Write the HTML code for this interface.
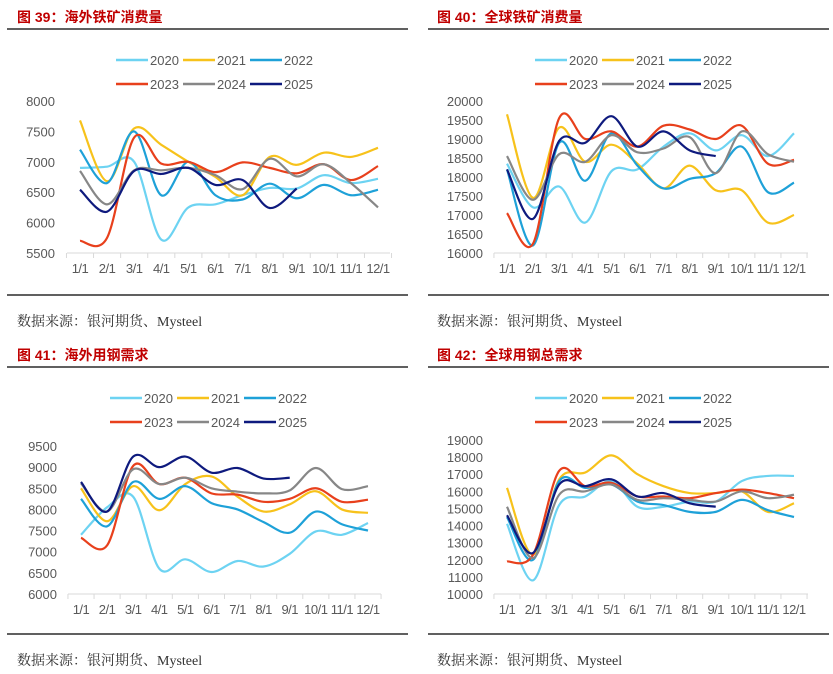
<!DOCTYPE html>
<html><head><meta charset="utf-8"><style>
body{margin:0;background:#fff;width:833px;height:674px;overflow:hidden;font-family:"Liberation Sans","Noto Sans CJK SC",sans-serif}
svg{position:absolute;left:0;top:0}
</style></head><body>
<svg id="s" width="833" height="674" xmlns="http://www.w3.org/2000/svg" font-family="Liberation Sans, Noto Sans CJK SC, sans-serif"></svg>
<script>
const C=['#6dd3f2','#f7c21b','#1ea1d8','#e8401c','#878787','#0e1a7e'];
const charts=[
{t:'图 39：海外铁矿消费量',tx:17,ty:22,ly:29,l0:7,l1:408,lg:116,ax0:67,ax1:390,x1:80,x12:378,yt:101,yb:253,v0:5500,v1:8000,st:500,ylx:55,bl:295,src:17,sy:326,
d:[[6900,6920,7000,5720,6250,6300,6450,6570,6560,6780,6650,6720],[7680,6680,7550,7280,7000,6750,6450,7080,6950,7150,7080,7230],[7200,6650,7500,6450,7000,6450,6380,6640,6400,6620,6450,6540],[5700,5750,7400,6970,7000,6830,6990,6900,6810,6960,6700,6930],[6850,6300,6860,6860,6900,6780,6550,7050,6760,6960,6650,6250],[6540,6180,6850,6800,6900,6620,6700,6240,6560]]},
{t:'图 40：全球铁矿消费量',tx:437,ty:22,ly:29,l0:428,l1:829,lg:535,ax0:494,ax1:808,x1:507,x12:794,yt:101,yb:253,v0:16000,v1:20000,st:500,ylx:483,bl:295,src:437,sy:326,
d:[[18350,17200,17750,16800,18150,18200,18800,19150,18700,19100,18550,19150],[19650,17450,19300,18400,18850,18350,17700,18300,17650,17650,16800,17000],[18200,16200,18900,17900,19150,18300,17700,17950,18100,18800,17600,17850],[17050,16250,19550,19000,19200,18800,19350,19250,19000,19350,18350,18450],[18550,17400,18600,18400,19100,18650,18750,19050,18100,19200,18600,18400],[18200,16900,18950,18900,19600,18800,19200,18700,18550]]},
{t:'图 41：海外用钢需求',tx:17,ty:360,ly:367,l0:7,l1:408,lg:110,ax0:68,ax1:381,x1:81,x12:368,yt:446,yb:594,v0:6000,v1:9500,st:500,ylx:57,bl:634,src:17,sy:665,
d:[[7400,8050,8300,6600,6820,6520,6780,6650,6950,7480,7400,7680],[8500,7720,8550,7980,8600,8780,8300,7950,8120,8430,8000,7920],[8250,7600,8650,8250,8550,8150,8000,7700,7450,7950,7650,7500],[7330,7150,9030,8600,8750,8380,8350,8180,8250,8500,8180,8230],[8620,7950,8950,8600,8750,8500,8420,8380,8450,8980,8480,8550],[8650,7950,9250,9000,9250,8870,8980,8730,8750]]},
{t:'图 42：全球用钢总需求',tx:437,ty:360,ly:367,l0:428,l1:829,lg:535,ax0:494,ax1:808,x1:507,x12:794,yt:440,yb:594,v0:10000,v1:19000,st:1000,ylx:483,bl:634,src:437,sy:665,
d:[[14100,10800,15200,15700,16600,15100,15100,15400,15400,16600,16900,16900],[16200,12300,16700,17100,18100,17000,16300,15900,15900,16000,14800,15300],[14500,12000,16600,16200,16400,15400,15200,14800,14800,15500,14900,14500],[11900,12300,17200,16300,16500,15700,15700,15600,15900,16100,15900,15600],[15100,12100,15800,16000,16400,15500,15600,15500,15400,16000,15600,15800],[14600,12400,16400,16300,16700,15700,15900,15300,15100]]}
];
let h='';
function path(p){let s=`M${p[0][0]},${p[0][1]}`;for(let i=0;i<p.length-1;i++){const a=p[i-1]||p[i],b=p[i],c=p[i+1],d=p[i+2]||c;const k=6;s+=` C${b[0]+(c[0]-a[0])/k},${b[1]+(c[1]-a[1])/k} ${c[0]-(d[0]-b[0])/k},${c[1]-(d[1]-b[1])/k} ${c[0]},${c[1]}`;}return s;}
charts.forEach((c,ci)=>{
h+=`<text x="${c.tx}" y="${c.ty}" font-size="14" font-weight="bold" fill="#c00000">${c.t}</text>`;
h+=`<line x1="${c.l0}" x2="${c.l1}" y1="${c.ly}" y2="${c.ly}" stroke="#000" stroke-width="1.3"/>`;
h+=`<line x1="${c.l0}" x2="${c.l1}" y1="${c.bl}" y2="${c.bl}" stroke="#000" stroke-width="1.3"/>`;
h+=`<text x="${c.src}" y="${c.sy}" font-size="14" fill="#333" font-family="Liberation Serif, Noto Serif CJK SC, serif">数据来源：银河期货、Mysteel</text>`;
const lgy=[c.ly+31,c.ly+55];
['2020','2021','2022','2023','2024','2025'].forEach((n,i)=>{const r=Math.floor(i/3),col=i%3;const x=c.lg+col*67,y=lgy[r];
h+=`<line x1="${x}" x2="${x+32}" y1="${y}" y2="${y}" stroke="${C[i]}" stroke-width="2.5"/><text x="${x+34}" y="${y+5}" font-size="13" fill="#595959">${n}</text>`;});
const Y=v=>c.yb-(v-c.v0)/(c.v1-c.v0)*(c.yb-c.yt);
for(let v=c.v0;v<=c.v1;v+=c.st)h+=`<text x="${c.ylx}" y="${Y(v)+5}" font-size="13" fill="#595959" text-anchor="end">${v}</text>`;
h+=`<line x1="${c.ax0}" x2="${c.ax1}" y1="${c.yb}" y2="${c.yb}" stroke="#d9d9d9" stroke-width="1"/>`;
const sp=(c.x12-c.x1)/11;
for(let i=0;i<=12;i++){const x=c.x1-sp/2+i*sp;h+=`<line x1="${x}" x2="${x}" y1="${c.yb}" y2="${c.yb+5}" stroke="#d9d9d9"/>`;}
for(let i=0;i<12;i++)h+=`<text x="${c.x1+i*sp}" y="${c.yb+20}" font-size="13" fill="#595959" text-anchor="middle" letter-spacing="-0.5">${i+1}/1</text>`;
c.d.forEach((s,i)=>{const p=s.map((v,j)=>[c.x1+j*sp,Y(v)]);h+=`<path d="${path(p)}" fill="none" stroke="${C[i]}" stroke-width="2.2"/>`;});
});
document.getElementById('s').innerHTML=h;
</script>
</body></html>
